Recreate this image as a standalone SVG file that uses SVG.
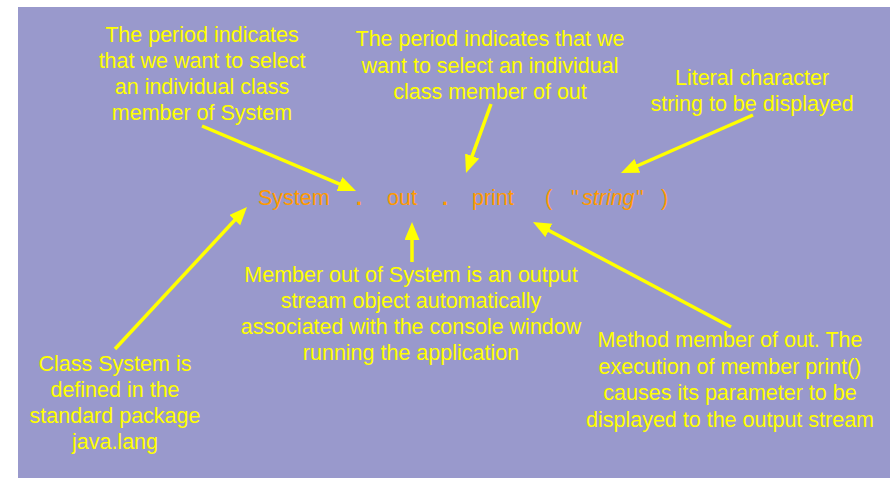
<svg xmlns="http://www.w3.org/2000/svg" width="896" height="478" viewBox="0 0 896 478">
<style>
.note{font-family:"Liberation Sans",Arial,sans-serif;font-size:21.5px;fill:#FFFF00;text-anchor:middle}
.code{font-family:"Liberation Sans",Arial,sans-serif;font-size:21.5px;fill:#FF9900}
.dot{font-weight:bold}
.conn line{stroke:#FFFF00;stroke-width:3.5;marker-end:url(#ah)}
</style>
<defs>
<marker id="ah" markerUnits="userSpaceOnUse" markerWidth="20" markerHeight="16" refX="8" refY="7.5" orient="auto">
<path d="M0,0 L18,7.5 L0,15 z" fill="#FFFF00"/>
</marker>
</defs>
<rect x="0" y="0" width="896" height="478" fill="#FFFFFF"/>
<rect x="18" y="7" width="872" height="471" fill="#9999CC"/>
<g id="code">
<text class="code" x="258" y="205">System</text>
<text class="code dot" x="356" y="205">.</text>
<text class="code" x="387" y="205">out</text>
<text class="code dot" x="442" y="205">.</text>
<text class="code" x="472" y="205">print</text>
<text class="code" x="545" y="205">(</text>
<text class="code" x="571" y="205">"</text>
<text class="code" x="582" y="205" font-style="italic">string</text>
<text class="code" x="636" y="205">"</text>
<text class="code" x="661" y="205">)</text>
</g>
<g id="note-period-system">
<text class="note" x="202" y="42">The period indicates</text>
<text class="note" x="202" y="68">that we want to select</text>
<text class="note" x="202" y="94">an individual class</text>
<text class="note" x="202" y="120">member of System</text>
</g>
<g id="note-period-out">
<text class="note" x="490" y="46">The period indicates that we</text>
<text class="note" x="490" y="73">want to select an individual</text>
<text class="note" x="490" y="99">class member of out</text>
</g>
<g id="note-literal">
<text class="note" x="752" y="85">Literal character</text>
<text class="note" x="752" y="111">string to be displayed</text>
</g>
<g id="note-out">
<text class="note" x="411" y="282">Member out of System is an output</text>
<text class="note" x="411" y="308">stream object automatically</text>
<text class="note" x="411" y="334">associated with the console window</text>
<text class="note" x="411" y="360">running the application</text>
</g>
<g id="note-system">
<text class="note" x="115" y="371">Class System is</text>
<text class="note" x="115" y="397">defined in the</text>
<text class="note" x="115" y="423">standard package</text>
<text class="note" x="115" y="449">java.lang</text>
</g>
<g id="note-print">
<text class="note" x="730" y="347">Method member of out. The</text>
<text class="note" x="730" y="374">execution of member print()</text>
<text class="note" x="730" y="400">causes its parameter to be</text>
<text class="note" x="730" y="427">displayed to the output stream</text>
</g>
<g id="connectors" class="conn">
<line x1="202" y1="126" x2="346.8" y2="187.1"/>
<line x1="491" y1="104" x2="469.4" y2="163.6"/>
<line x1="753" y1="115" x2="630.1" y2="169.0"/>
<line x1="115" y1="349" x2="240.2" y2="214.3"/>
<line x1="412" y1="262" x2="412" y2="232"/>
<line x1="731" y1="327" x2="541.8" y2="226.7"/>
</g>
</svg>
